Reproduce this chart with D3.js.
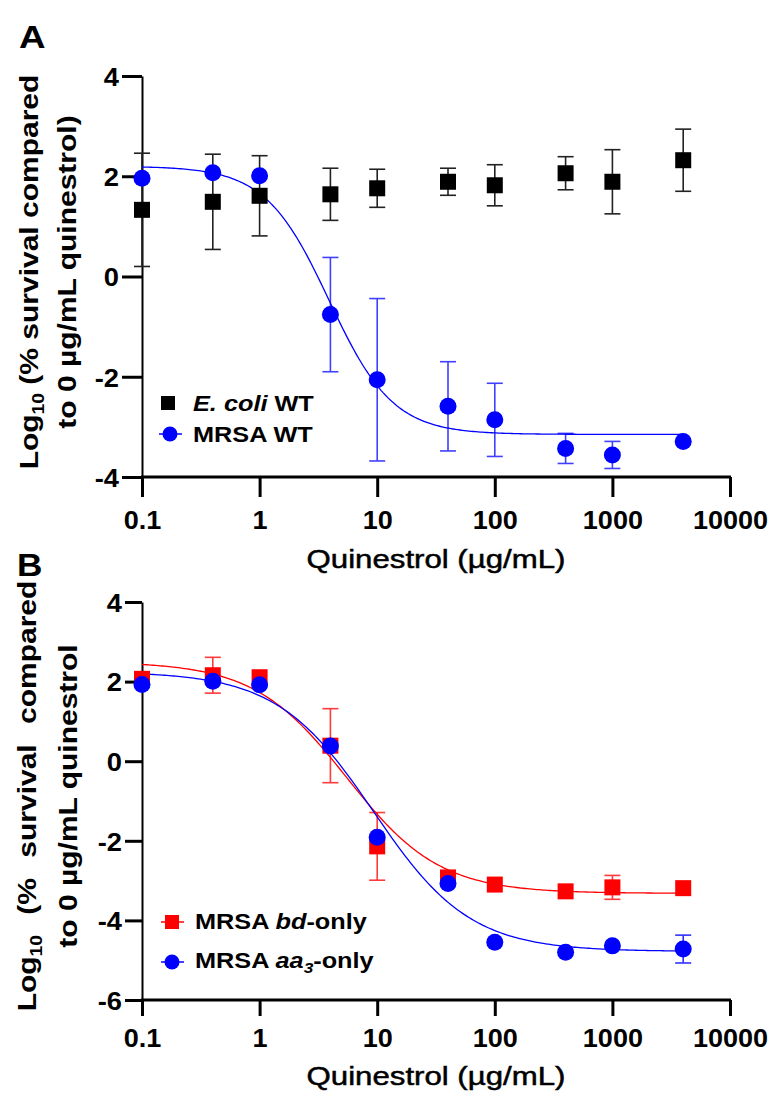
<!DOCTYPE html>
<html>
<head>
<meta charset="utf-8">
<script src="https://cdn.jsdelivr.net/npm/d3@7"></script>
<style>
  body { margin: 0; background: #fff; }
  svg { display: block; }
</style>
</head>
<body>
<svg id="chart" width="776" height="1093"></svg>
<script>
// Quinestrol concentrations tested (µg/mL)
const conc = [0.1, 0.4, 1, 4, 10, 40, 100, 400, 1000, 4000];
const xTicks = [0.1, 1, 10, 100, 1000, 10000];
const xTickLabels = ["0.1", "1", "10", "100", "1000", "10000"];
const yTicksA = [-4, -2, 0, 2, 4];
const yTicksB = [-6, -4, -2, 0, 2, 4];

// Panel A: wild-type strains, log10 % survival (mean, SD)
const ecoliMean = [1.33, 1.49, 1.61, 1.64, 1.76, 1.89, 1.82, 2.06, 1.89, 2.32];
const ecoliSD   = [1.13, 0.95, 0.80, 0.52, 0.38, 0.27, 0.41, 0.33, 0.64, 0.62];
const mrsaMean  = [1.96, 2.07, 2.01, -0.76, -2.06, -2.59, -2.86, -3.43, -3.56, -3.29];
const mrsaSD    = [0, 0, 0, 1.14, 1.62, 0.89, 0.73, 0.30, 0.27, 0];
// four-parameter logistic fit: top, bottom, EC50, Hill slope
const mrsaFit   = [2.2, -3.15, 3.9, 1.6];

// Panel B: single-oxidase MRSA strains
const bdMean  = [2.07, 2.16, 2.11, 0.39, -2.14, -2.92, -3.10, -3.27, -3.17, -3.19];
const bdSD    = [0, 0.45, 0, 0.93, 0.85, 0, 0, 0, 0.30, 0];
const bdFit   = [2.5, -3.32, 5.5, 1.1];
const aa3Mean = [1.93, 2.01, 1.92, 0.38, -1.91, -3.07, -4.55, -4.80, -4.64, -4.72];
const aa3SD   = [0, 0, 0, 0, 0, 0, 0, 0, 0, 0.35];
const aa3Fit  = [2.25, -4.78, 9.3, 1.06];

const FONT = "'Liberation Sans', Arial, Helvetica, sans-serif";
const svg = d3.select("#chart");

// text placed in its own frame so glyphs can be widened along the baseline
function label(x, y, opts) {
  const g = svg.append("g")
    .attr("transform", `translate(${x},${y}) rotate(${opts.rotate || 0}) scale(${opts.sx || 1},1)`);
  return g.append("text")
    .attr("text-anchor", opts.anchor || "start")
    .attr("font-family", FONT)
    .attr("font-size", opts.size)
    .attr("font-weight", opts.weight || "normal")
    .attr("word-spacing", opts.wordSpacing || null)
    .attr("stroke", opts.stroke ? "#000" : null)
    .attr("stroke-width", opts.stroke || null)
    .attr("fill", "#000");
}

function logistic(p, x) {
  const [top, bottom, ec50, hill] = p;
  return bottom + (top - bottom) / (1 + Math.pow(x / ec50, hill));
}

function fitPoints(p) {
  const lo = Math.log10(conc[0]), hi = Math.log10(conc[conc.length - 1]);
  return d3.range(0, 241).map(i => {
    const xv = Math.pow(10, lo + (hi - lo) * i / 240);
    return [xv, logistic(p, xv)];
  });
}

function drawPanel(cfg) {
  const x = d3.scaleLog().domain([0.1, 10000]).range([142, 730]);
  const y = d3.scaleLinear().domain(cfg.yDomain).range(cfg.yRange);
  const g = svg.append("g");

  // y axis
  const gy = g.append("g").attr("transform", "translate(142,0)")
    .call(d3.axisLeft(y).tickValues(cfg.yTicks).tickSize(cfg.yTickLen).tickSizeOuter(0)
      .tickFormat(d => String(d)));
  gy.select(".domain").attr("stroke", "#000").attr("stroke-width", 2);
  gy.selectAll(".tick line").attr("stroke", "#000").attr("stroke-width", 3);
  gy.selectAll(".tick text")
    .attr("x", null).attr("dy", "0.36em")
    .attr("transform", `translate(${-cfg.yTickLen - 3},0) scale(1.05,1)`)
    .attr("font-family", FONT).attr("font-size", cfg.tickSize).attr("font-weight", "bold")
    .attr("fill", "#000");

  // x axis
  const gx = g.append("g").attr("transform", `translate(0,${cfg.yRange[0]})`)
    .call(d3.axisBottom(x).tickValues(xTicks).tickSize(cfg.xTickLen).tickSizeOuter(0)
      .tickFormat((d, i) => xTickLabels[i]));
  gx.select(".domain").attr("stroke", "#000").attr("stroke-width", 3)
    .attr("d", `M141,0H731`);
  gx.selectAll(".tick line").attr("stroke", "#000").attr("stroke-width", 3);
  gx.selectAll(".tick text")
    .attr("y", null).attr("dy", null)
    .attr("transform", `translate(0,${cfg.xLabelBase}) scale(1.04,1)`)
    .attr("font-family", FONT).attr("font-size", cfg.tickSize).attr("font-weight", "bold")
    .attr("fill", "#000");

  // error bars
  cfg.series.forEach(s => {
    const eb = g.append("g").attr("stroke", s.errColor).attr("stroke-width", 1.6).attr("fill", "none");
    conc.forEach((c, i) => {
      const sd = s.sd[i];
      if (!sd) return;
      const cx = x(c), y1 = y(s.mean[i] + sd), y2 = y(s.mean[i] - sd);
      eb.append("line").attr("x1", cx).attr("x2", cx).attr("y1", y1).attr("y2", y2);
      eb.append("line").attr("x1", cx - 8).attr("x2", cx + 8).attr("y1", y1).attr("y2", y1);
      eb.append("line").attr("x1", cx - 8).attr("x2", cx + 8).attr("y1", y2).attr("y2", y2);
    });
  });

  // fitted curves
  const line = d3.line().x(d => x(d[0])).y(d => y(d[1]));
  cfg.series.filter(s => s.fit).forEach(s => {
    g.append("path").attr("d", line(fitPoints(s.fit)))
      .attr("fill", "none").attr("stroke", s.color).attr("stroke-width", 1.3);
  });

  // markers
  cfg.series.forEach(s => {
    const mg = g.append("g").attr("fill", s.color);
    conc.forEach((c, i) => {
      if (s.shape === "square") {
        mg.append("rect").attr("x", x(c) - 8).attr("y", y(s.mean[i]) - 8)
          .attr("width", 16).attr("height", 16);
      } else {
        mg.append("circle").attr("cx", x(c)).attr("cy", y(s.mean[i])).attr("r", 8.5);
      }
    });
  });

  return { x, y };
}

// ---------- Panel A ----------
drawPanel({
  yDomain: [-4, 4], yRange: [477, 76], yTicks: yTicksA,
  yTickLen: 20, xTickLen: 20, xLabelBase: 52, tickSize: 26,
  series: [
    { mean: ecoliMean, sd: ecoliSD, color: "#000", errColor: "#222", shape: "square" },
    { mean: mrsaMean, sd: mrsaSD, color: "#0000ff", errColor: "#4040ff", shape: "circle", fit: mrsaFit }
  ]
});

// ---------- Panel B ----------
drawPanel({
  yDomain: [-6, 4], yRange: [1000, 602], yTicks: yTicksB,
  yTickLen: 17, xTickLen: 16, xLabelBase: 47, tickSize: 26,
  series: [
    { mean: bdMean, sd: bdSD, color: "#ff0000", errColor: "#ff3a3a", shape: "square", fit: bdFit },
    { mean: aa3Mean, sd: aa3SD, color: "#0000ff", errColor: "#3030ff", shape: "circle", fit: aa3Fit }
  ]
});

// panel letters
label(19, 48, { size: 32, weight: "bold", sx: 1.15 }).text("A");
label(17, 576, { size: 32, weight: "bold", sx: 1.1 }).text("B");

// x axis titles
label(436, 568, { size: 26, anchor: "middle", sx: 1.2, stroke: 0.5 }).text("Quinestrol (µg/mL)");
label(436, 1085, { size: 26, anchor: "middle", sx: 1.2, stroke: 0.5 }).text("Quinestrol (µg/mL)");

// y axis titles
function yTitle(x1, x2, cy, closeParen, wordSpacing) {
  const t1 = label(x1, cy, { size: 25, weight: "bold", anchor: "middle", rotate: -90, sx: 1.2, wordSpacing });
  t1.append("tspan").text("Log");
  t1.append("tspan").attr("font-size", 16).attr("dy", 6).text("10");
  t1.append("tspan").attr("dy", -6).text(" (% survival compared");
  const t2 = label(x2, cy, { size: 25, weight: "bold", anchor: "middle", rotate: -90, sx: 1.2 });
  t2.text("to 0 µg/mL quinestrol" + (closeParen ? ")" : ""));
}
yTitle(38, 76, 272, true, null);
yTitle(36, 77, 796, false, 10);

// legends
function legendEntry(cx, cy, shape, color, withLine, parts, tx, base) {
  if (withLine) {
    svg.append("line").attr("x1", cx - 11).attr("x2", cx + 12).attr("y1", cy).attr("y2", cy)
      .attr("stroke", color).attr("stroke-width", 1.5);
  }
  if (shape === "square") {
    svg.append("rect").attr("x", cx - 7).attr("y", cy - 7).attr("width", 14).attr("height", 14).attr("fill", color);
  } else {
    svg.append("circle").attr("cx", cx).attr("cy", cy).attr("r", 7.5).attr("fill", color);
  }
  const t = label(tx, base, { size: 22, weight: "bold", sx: 1.15 });
  parts.forEach(p => {
    const ts = t.append("tspan").text(p.t);
    if (p.italic) ts.attr("font-style", "italic");
    if (p.sub) ts.attr("font-size", 15).attr("dy", 5);
    if (p.after) ts.attr("dy", -5);
  });
}
legendEntry(168, 403, "square", "#000", false, [{ t: "E. coli", italic: true }, { t: " WT" }], 193, 411);
legendEntry(170, 434, "circle", "#0000ff", true, [{ t: "MRSA WT" }], 193, 442);
legendEntry(172, 922, "square", "#ff0000", true, [{ t: "MRSA " }, { t: "bd", italic: true }, { t: "-only" }], 195, 929);
legendEntry(172, 962, "circle", "#0000ff", true,
  [{ t: "MRSA " }, { t: "aa", italic: true }, { t: "3", italic: true, sub: true }, { t: "-only", after: true }], 195, 968);
</script>
</body>
</html>
